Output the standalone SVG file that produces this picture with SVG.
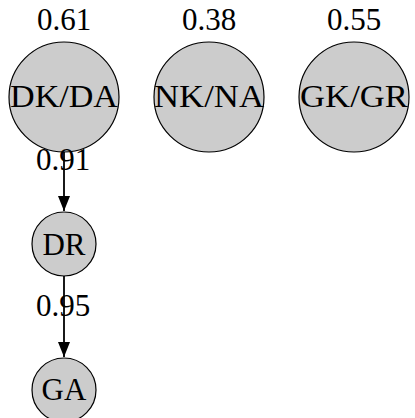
<svg xmlns="http://www.w3.org/2000/svg" width="415" height="418" viewBox="0 0 415 418">
<defs>
<style>
.n{fill:#cccccc;stroke:#000;stroke-width:1.2}
.t{font-family:"Liberation Serif","DejaVu Serif",serif;font-size:31px;fill:#000;text-anchor:middle}
.e{stroke:#000;stroke-width:1.8;fill:none}
</style>
<marker id="ah" markerUnits="userSpaceOnUse" markerWidth="15" markerHeight="12" refX="15" refY="6" orient="auto" viewBox="0 0 15 12">
<path d="M0,0 L15,6 L0,12 Z" fill="#000"/>
</marker>
</defs>
<rect width="415" height="418" fill="#fff"/>
<g id="edges">
<line class="e" x1="64" y1="152" x2="64" y2="211" marker-end="url(#ah)"/>
<line class="e" x1="64" y1="276" x2="64" y2="357" marker-end="url(#ah)"/>
</g>
<g id="node-dkda">
<circle class="n" cx="64" cy="97" r="55"/>
<text class="t" x="64" y="107" textLength="108" lengthAdjust="spacingAndGlyphs">DK/DA</text>
<text class="t" x="64" y="30">0.61</text>
</g>
<g id="node-nkna">
<circle class="n" cx="209" cy="97" r="55"/>
<text class="t" x="209" y="107" textLength="110" lengthAdjust="spacingAndGlyphs">NK/NA</text>
<text class="t" x="209" y="30">0.38</text>
</g>
<g id="node-gkgr">
<circle class="n" cx="354" cy="97" r="55"/>
<text class="t" x="354" y="107" textLength="108" lengthAdjust="spacingAndGlyphs">GK/GR</text>
<text class="t" x="354" y="30">0.55</text>
</g>
<g id="node-dr">
<circle class="n" cx="64" cy="244" r="32"/>
<text class="t" x="64" y="255">DR</text>
</g>
<g id="node-ga">
<circle class="n" cx="64" cy="390" r="32"/>
<text class="t" x="64" y="400">GA</text>
</g>
<g id="edge-labels">
<text class="t" x="63" y="170">0.91</text>
<text class="t" x="63" y="316">0.95</text>
</g>
</svg>
